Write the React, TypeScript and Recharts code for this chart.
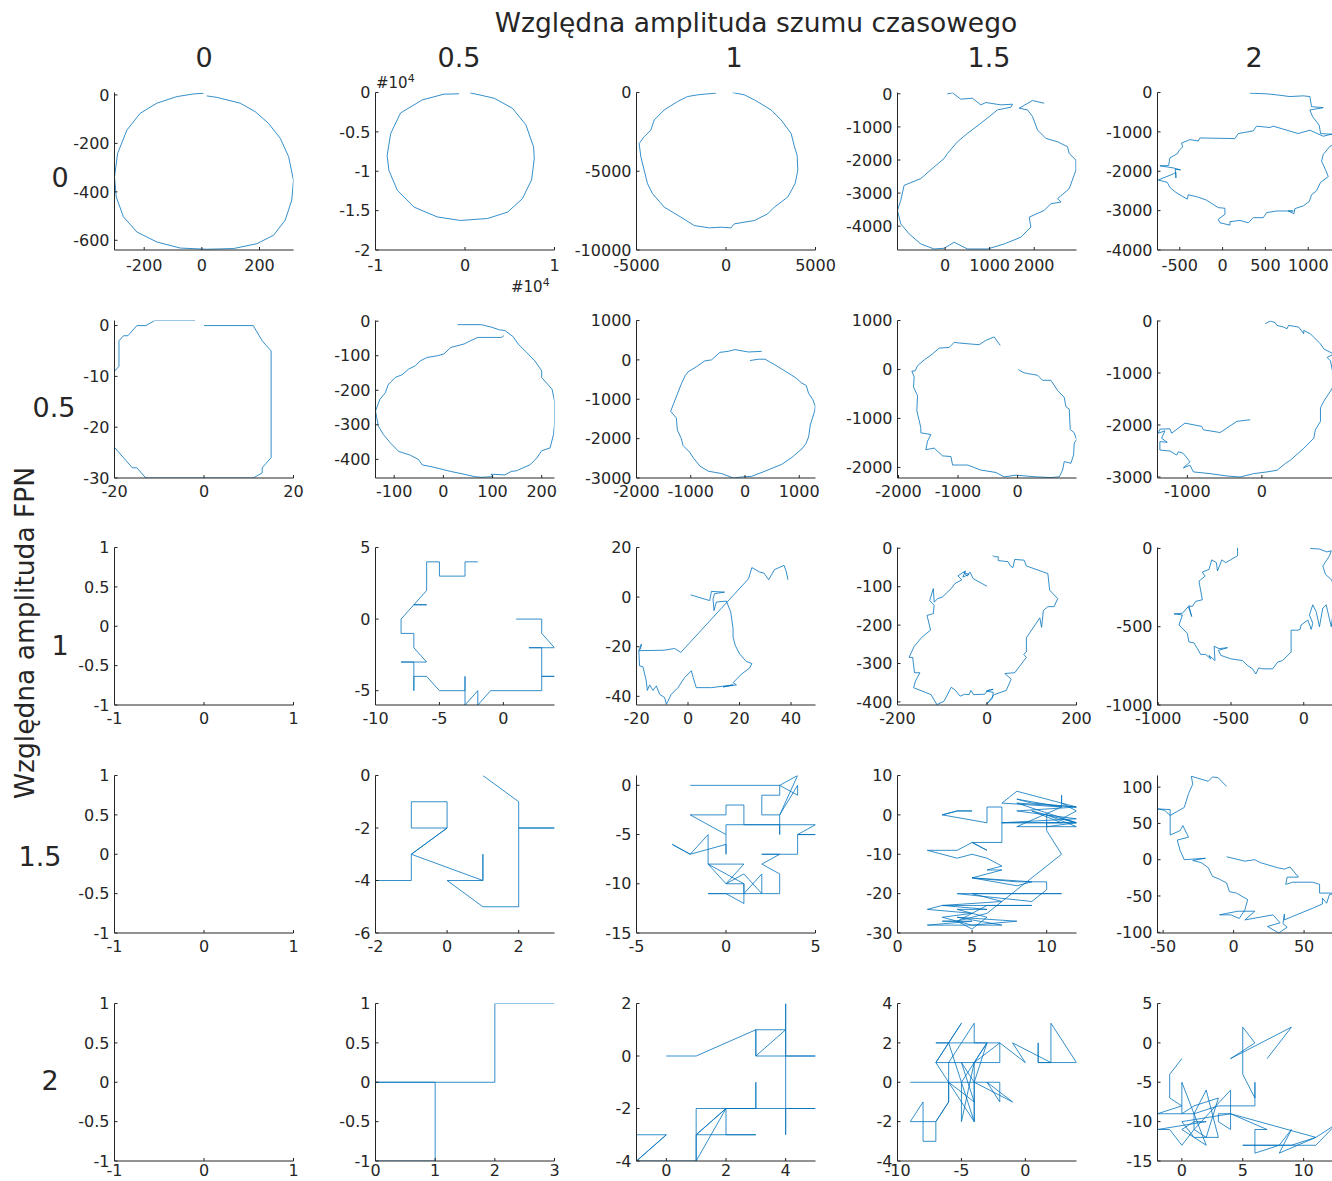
import { LineChart, Line, XAxis, YAxis } from 'recharts'

type Pt = [number, number]

const AXIS = '#262626'
const BLUE = '#0072BD'
const FONT = '"DejaVu Sans", sans-serif'

const TITLE = 'Względna amplituda szumu czasowego'
const Y_TITLE = 'Względna amplituda FPN'
const COL_LABELS = ['0', '0.5', '1', '1.5', '2']
const ROW_LABELS = ['0', '0.5', '1', '1.5', '2']

// row 0 (FPN 0)
const r0c0: Pt[] = [[17,-4],[52,-10],[133,-34],[185,-69],[231,-117],[272,-179],[301,-255],[318,-352],[312,-434],[289,-517],[249,-579],[191,-614],[110,-634],[17,-637],[-75,-632],[-156,-607],[-225,-566],[-272,-503],[-297,-421],[-303,-338],[-292,-241],[-260,-145],[-214,-76],[-156,-34],[-87,-7],[-29,4],[6,7]]
const r0c1: Pt[] = [[560,-40],[3250,-720],[5300,-2000],[6800,-4100],[7660,-6900],[7740,-8400],[7440,-11100],[6400,-13500],[4750,-15200],[2500,-16000],[-500,-16250],[-3100,-15800],[-5700,-14550],[-7570,-12400],[-8500,-9900],[-8700,-8000],[-8300,-5200],[-7200,-2600],[-4770,-940],[-2350,-210],[-670,-170]]
const r0c2: Pt[] = [[373,0],[1026,-149],[1586,-468],[2519,-1106],[3078,-1745],[3638,-2596],[3825,-3447],[3974,-3979],[4011,-4936],[3862,-5787],[3451,-6638],[2705,-7277],[2332,-7702],[1586,-8128],[466,-8340],[280,-8596],[-280,-8553],[-933,-8596],[-1772,-8447],[-2519,-7915],[-3451,-7277],[-4104,-6426],[-4384,-5787],[-4571,-4936],[-4757,-4085],[-4851,-3234],[-4571,-2809],[-4198,-2383],[-4011,-1745],[-3451,-1106],[-2705,-574],[-2146,-255],[-1586,-149],[-1026,-85],[-560,-43]]
const r0c3: Pt[] = [[52,0],[165,30],[352,-162],[614,-132],[801,-334],[914,-263],[1251,-334],[1513,-314],[1476,-405],[1176,-486],[801,-891],[502,-1195],[277,-1448],[52,-1803],[-22,-1954],[-247,-2208],[-547,-2562],[-921,-2765],[-996,-3220],[-1071,-3524],[-996,-3929],[-809,-4233],[-547,-4537],[-247,-4689],[-22,-4668],[202,-4486],[502,-4689],[951,-4689],[1326,-4537],[1700,-4334],[1925,-4030],[1888,-3727],[2225,-3524],[2375,-3322],[2599,-3271],[2524,-3170],[2787,-2866],[2936,-2309],[2936,-2005],[2787,-1803],[2749,-1600],[2524,-1448],[2262,-1347],[2075,-1094],[1963,-689],[1850,-486],[1663,-435],[1963,-203],[2225,-284]]
const r0c4: Pt[] = [[319,-17],[514,-34],[630,-60],[786,-103],[942,-85],[1019,-103],[1039,-359],[1175,-385],[1019,-444],[1051,-615],[1128,-829],[1144,-1043],[1276,-1060],[1331,-1299],[1253,-1368],[1175,-1573],[1156,-1744],[1206,-1983],[1234,-2137],[1144,-2282],[1097,-2496],[1039,-2598],[1012,-2769],[942,-2880],[844,-2949],[833,-3077],[767,-3009],[825,-3009],[630,-3009],[514,-3051],[475,-3179],[358,-3179],[300,-3308],[202,-3248],[86,-3282],[86,-3368],[-31,-3308],[-51,-3222],[27,-3094],[27,-2940],[-51,-2923],[-187,-2735],[-296,-2650],[-401,-2598],[-412,-2709],[-545,-2538],[-615,-2410],[-646,-2282],[-751,-2222],[-576,-2068],[-545,-2026],[-545,-2171],[-553,-1949],[-490,-1966],[-576,-1915],[-732,-1863],[-630,-1855],[-615,-1658],[-529,-1556],[-506,-1470],[-467,-1385],[-479,-1282],[-381,-1197],[-284,-1231],[-265,-1154],[144,-1171],[183,-1043],[358,-974],[397,-855],[553,-889],[591,-855],[883,-1043],[1019,-957],[1175,-1111],[1331,-1026]]

// row 1 (FPN 0.5)
const r1c0: Pt[] = [[0,0],[11,0],[13,-3],[14,-4],[15,-5],[15,-26],[13,-28],[13,-29],[11,-30],[-13,-30],[-15,-28],[-16,-28],[-20,-24],[-20,-9],[-19,-8],[-19,-3],[-18,-2],[-17,-2],[-15,0],[-13,0],[-11,1],[-2,1]]
const r1c1: Pt[] = [[29,-10],[77,-10],[97,-17],[114,-25],[125,-27],[142,-45],[152,-66],[169,-90],[186,-115],[200,-144],[200,-163],[221,-197],[226,-231],[226,-260],[226,-299],[224,-328],[217,-367],[200,-375],[190,-396],[176,-416],[166,-422],[149,-433],[138,-435],[125,-445],[97,-443],[101,-450],[77,-452],[63,-450],[42,-443],[15,-435],[-19,-423],[-43,-416],[-50,-401],[-67,-388],[-91,-377],[-108,-352],[-122,-328],[-132,-304],[-136,-275],[-138,-260],[-129,-226],[-118,-207],[-112,-183],[-108,-178],[-98,-163],[-84,-155],[-71,-139],[-57,-129],[-47,-115],[-33,-105],[-12,-100],[1,-95],[15,-76],[42,-66],[56,-56],[70,-47],[87,-47],[118,-47],[123,-42]]
const r1c2: Pt[] = [[309,217],[62,200],[-185,261],[-309,217],[-463,191],[-617,0],[-741,-26],[-895,-174],[-1049,-304],[-1099,-391],[-1173,-609],[-1235,-826],[-1296,-1043],[-1370,-1304],[-1265,-1478],[-1247,-1783],[-1173,-2000],[-1142,-2174],[-1019,-2348],[-957,-2478],[-833,-2696],[-679,-2826],[-432,-2887],[-216,-3000],[-62,-2974],[123,-2957],[370,-2826],[679,-2652],[864,-2478],[1049,-2261],[1123,-2130],[1173,-1957],[1204,-1652],[1284,-1304],[1296,-1174],[1247,-1000],[1173,-852],[1130,-652],[1049,-591],[957,-478],[864,-391],[710,-261],[556,-130],[370,17],[247,17],[93,-17]]
const r1c3: Pt[] = [[-291,491],[-392,664],[-532,595],[-647,505],[-980,540],[-1064,554],[-1148,450],[-1317,436],[-1429,318],[-1569,194],[-1681,76],[-1720,-28],[-1776,-35],[-1737,-152],[-1748,-360],[-1681,-533],[-1692,-844],[-1625,-1190],[-1625,-1294],[-1457,-1329],[-1513,-1467],[-1541,-1640],[-1401,-1606],[-1261,-1765],[-1120,-1779],[-1092,-1952],[-840,-1952],[-616,-2055],[-364,-2104],[-224,-2194],[-28,-2159],[112,-2173],[308,-2194],[560,-2208],[700,-2194],[756,-2055],[784,-1882],[896,-1917],[941,-1744],[952,-1502],[992,-1433],[952,-1294],[885,-1225],[868,-810],[812,-761],[784,-568],[672,-429],[560,-221],[420,-221],[336,-118],[168,-83],[112,-69],[56,-35],[11,0]]
const r1c4: Pt[] = [[-157,-1899],[-336,-1931],[-561,-2145],[-785,-2093],[-807,-2028],[-1031,-1964],[-1211,-2158],[-1233,-2074],[-1368,-2080],[-1390,-2158],[-1300,-2113],[-1345,-2255],[-1269,-2333],[-1368,-2320],[-1368,-2482],[-1233,-2502],[-1143,-2579],[-1121,-2515],[-1054,-2547],[-964,-2709],[-1054,-2826],[-964,-2774],[-919,-2903],[-695,-2936],[-471,-2981],[-291,-3001],[-112,-2936],[67,-2903],[202,-2871],[314,-2741],[381,-2677],[561,-2450],[695,-2255],[717,-2093],[785,-1931],[785,-1672],[830,-1542],[919,-1348],[946,-1283],[1009,-1218],[946,-959],[919,-765],[874,-700],[964,-635],[830,-538],[785,-441],[695,-311],[650,-246],[561,-181],[561,-246],[493,-117],[359,-84],[336,-149],[291,-117],[202,-84],[179,-32],[112,0],[45,-52]]

// row 2 (FPN 1)
const r2c1: Pt[] = [[1,0],[2,0],[3,0],[3,-1],[4,-2],[2,-2],[3,-2],[3,-4],[4,-4],[3,-4],[3,-5],[-1,-5],[-2,-6],[-2,-5],[-3,-6],[-3,-4],[-3,-5],[-5,-5],[-6,-4],[-7,-4],[-7,-5],[-7,-3],[-8,-3],[-6,-3],[-7,-2],[-7,-1],[-8,-1],[-8,0],[-7,1],[-6,1],[-7,1],[-6,2],[-6,4],[-5,4],[-5,3],[-3,3],[-3,4],[-2,4]]
const r2c2: Pt[] = [[1,0.9],[8.4,-1.4],[9.1,2.3],[14.2,2],[10.3,1.4],[9.7,-0.7],[10.1,-5.4],[11,-2],[14.9,-1.6],[16.6,-6.1],[17.5,-12.8],[17.5,-16.2],[18.4,-19.6],[20.1,-23],[22.6,-25.9],[24.8,-26.8],[23.9,-28.6],[20.7,-31.1],[17.5,-34.5],[18.8,-35.4],[13.6,-36.2],[17.5,-35.4],[9.1,-36.5],[3.2,-36.5],[2,-32.4],[1.3,-29.7],[-1.3,-32.4],[-3.9,-36.5],[-6.5,-39.2],[-8.4,-43.2],[-9.1,-40.5],[-11,-39.2],[-12.3,-35.8],[-13.6,-37.6],[-14.9,-35.4],[-15.8,-37.6],[-16.2,-33.8],[-17.5,-28.1],[-18.8,-27.7],[-19.1,-21.6],[-18.1,-18.9],[-18.4,-20.9],[-19.1,-21.6],[-9.1,-21.4],[-5.2,-20.7],[-2.8,-22.3],[23.5,7.4],[24.8,11.9],[27.8,10.1],[29.5,9.7],[31.3,7],[33.6,11.1],[37.3,12.8],[38.2,10.1],[38.8,7]]
const r2c3: Pt[] = [[0,-99],[-31,-79],[-38,-62],[-44,-72],[-52,-63],[-40,-68],[-54,-75],[-48,-59],[-60,-68],[-65,-72],[-56,-82],[-72,-92],[-80,-105],[-100,-127],[-110,-131],[-118,-140],[-120,-105],[-128,-136],[-118,-148],[-120,-170],[-134,-175],[-126,-213],[-146,-232],[-163,-256],[-174,-284],[-166,-284],[-162,-324],[-150,-324],[-160,-346],[-164,-363],[-125,-381],[-112,-407],[-96,-398],[-80,-362],[-72,-368],[-60,-385],[-50,-380],[-40,-381],[-36,-370],[-30,-381],[-5,-380],[2,-370],[14,-367],[-2,-372],[14,-375],[12,-390],[0,-405],[16,-381],[43,-370],[54,-341],[40,-326],[62,-324],[88,-284],[82,-276],[88,-270],[88,-233],[118,-181],[122,-206],[126,-162],[136,-152],[150,-152],[158,-131],[140,-109],[136,-66],[88,-46],[83,-31],[62,-29],[58,-50],[53,-47],[47,-35],[25,-32],[25,-22],[16,-22],[13,-18]]
const r2c4: Pt[] = [[-455,6],[-455,-47],[-536,-91],[-563,-73],[-593,-144],[-600,-91],[-632,-73],[-651,-134],[-697,-151],[-678,-177],[-720,-209],[-697,-328],[-743,-338],[-766,-371],[-789,-366],[-770,-435],[-793,-371],[-834,-414],[-892,-418],[-834,-425],[-857,-489],[-800,-543],[-789,-597],[-755,-603],[-731,-640],[-708,-677],[-674,-677],[-640,-705],[-651,-683],[-610,-716],[-616,-625],[-582,-640],[-524,-634],[-586,-651],[-570,-683],[-501,-705],[-421,-716],[-386,-748],[-352,-769],[-329,-802],[-310,-763],[-283,-769],[-214,-769],[-179,-726],[-145,-716],[-87,-662],[-87,-522],[-41,-522],[-25,-517],[-18,-489],[28,-457],[51,-517],[62,-478],[39,-425],[62,-360],[85,-403],[108,-500],[131,-381],[154,-360],[189,-500],[223,-263],[189,-198],[149,-166],[131,-112],[154,-80],[177,-47],[189,-15],[159,-22],[108,-4],[44,0]]

// row 3 (FPN 1.5)
const r3c1: Pt[] = [[1,0],[2,-1],[2,-2],[3,-2],[2,-2],[2,-5],[1,-5],[0,-4],[1,-4],[1,-3],[1,-4],[-1,-3],[0,-2],[0,-1],[-1,-1],[-1,-2],[0,-2],[-1,-3],[-1,-4],[-2,-4],[-2,-6]]
const r3c2: Pt[] = [[-2,0],[3,0],[4,1],[3,-3],[4,0],[4,-1],[3,0],[3,-1],[2,-1],[2,-3],[3,-3],[3,-5],[3,-4],[5,-4],[4,-5],[5,-5],[4,-5],[4,-7],[2,-7],[3,-7],[2,-8],[3,-9],[3,-11],[-1,-11],[0,-11],[1,-12],[1,-10],[0,-10],[-1,-8],[1,-8],[0,-10],[1,-9],[2,-11],[2,-9],[1,-11],[1,-10],[-1,-8],[-1,-5],[-2,-7],[-3,-6],[-2,-7],[0,-6],[0,-7],[0,-4],[3,-4],[1,-4],[1,-2],[0,-2],[0,-3],[-2,-3],[0,-5]]
const r3c3: Pt[] = [[3,0],[4,1],[5,1],[4,1],[3,0],[6,-2],[6,2],[7,2],[7,-7],[5,-7],[6,-9],[5,-7],[4,-9],[2,-9],[4,-11],[5,-10],[6,-11],[7,-13],[6,-14],[7,-14],[5,-16],[8,-18],[9,-17],[5,-16],[8,-17],[10,-17],[10,-19],[9,-22],[4,-20],[11,-20],[5,-20],[7,-22],[3,-23],[9,-23],[6,-23],[4,-27],[3,-27],[5,-27],[2,-28],[7,-28],[4,-26],[8,-27],[5,-28],[3,-26],[5,-25],[2,-24],[3,-23],[6,-24],[4,-24],[6,-26],[5,-29],[4,-27],[6,-25],[8,-19],[11,-10],[10,-4],[10,-2],[12,-2],[11,-1],[12,1],[11,3],[11,5],[11,2],[8,4],[9,3],[12,2],[8,1],[10,0],[12,-1],[7,-2],[12,-2],[10,-3],[10,0],[12,-3],[8,-3],[11,2],[7,3],[8,6],[10,4],[12,2],[8,3],[12,-2],[9,1],[11,-2],[7,-2]]
const r3c4: Pt[] = [[-5,4],[8,-2],[15,0],[19,-4],[31,-11],[36,-13],[40,-10],[46,-24],[38,-24],[37,-34],[42,-31],[56,-31],[61,-34],[61,-46],[73,-46],[68,-48],[66,-60],[63,-53],[63,-61],[56,-67],[42,-78],[36,-83],[36,-75],[35,-88],[38,-93],[32,-101],[24,-92],[33,-87],[28,-76],[8,-83],[15,-71],[3,-71],[-5,-74],[-10,-76],[-2,-76],[4,-81],[8,-69],[10,-55],[2,-46],[-3,-44],[-5,-32],[-10,-27],[-15,-23],[-18,-11],[-23,-4],[-29,-1],[-20,2],[-35,0],[-38,13],[-40,27],[-32,31],[-36,47],[-38,40],[-45,34],[-45,69],[-54,70],[-49,68],[-45,61],[-35,72],[-32,91],[-29,104],[-30,115],[-18,108],[-15,114],[-11,113],[-5,101]]

// row 4 (FPN 2)
const r4c1: Pt[] = [[0,0],[1,0],[0,0],[0,-1],[1,-1],[1,0],[2,0],[2,1],[3,1]]
const r4c2: Pt[] = [[0,0],[1,0],[3,1],[4,1],[3,0],[3,1],[3,0],[4,0],[5,0],[4,0],[4,2],[4,-3],[4,-2],[5,-2],[2,-2],[3,-2],[3,-1],[3,-2],[2,-2],[1,-4],[1,-2],[2,-2],[2,-3],[3,-3],[1,-3],[2,-2],[1,-3],[1,-4],[-1,-4],[0,-3],[-1,-3],[-1,-4],[0,-3]]
const r4c3: Pt[] = [[-9,0],[-2,0],[-2,-1],[-3,0],[-1,-1],[-4,0],[-3,2],[-5,0],[-4,-2],[-6,0],[-6,-1],[-7,-2],[-9,-2],[-8,-1],[-8,-3],[-7,-3],[-7,-2],[-6,-1],[-6,0],[-7,1],[-6,2],[-7,2],[-2,2],[-2,1],[-7,1],[-5,3],[-6,2],[-5,0],[-5,-2],[-4,1],[-3,2],[-4,2],[-4,3],[-6,1],[-6,0],[-4,-1],[-5,1],[-4,0],[-4,-2],[-4,1],[-2,2],[0,1],[-1,2],[2,1],[1,1],[1,2],[1,1],[2,1],[2,3],[4,1],[2,1]]
const r4c4: Pt[] = [[0,-2],[-1,-4],[-1,-7],[0,-8],[-2,-9],[1,-9],[1,-11],[0,-13],[-1,-11],[-2,-11],[2,-10],[1,-10],[0,-11],[2,-13],[0,-5],[0,-9],[1,-8],[3,-7],[2,-12],[1,-11],[4,-6],[4,-11],[3,-10],[3,-9],[4,-9],[7,-11],[6,-11],[6,-14],[8,-13],[9,-11],[8,-14],[11,-12],[9,-13],[5,-13],[11,-13],[12.7,-10.3],[11,-12],[4,-9],[0,-10],[1,-12],[3,-12],[2,-6],[1,-9],[3,-8],[6,-8],[6,-5],[6,-7],[5,-4],[5,2],[6,0],[4,-2],[9,2],[7,-2]]

const EMPTY: Pt[] = []
const UNIT_X = [-1, 0, 1]
const UNIT_Y = [-1, -0.5, 0, 0.5, 1]

const COL_LEFT = [114, 375, 636, 897, 1157]
const ROW_TOP = [92, 320, 547, 775, 1003]
const ROW_XMARGIN = [13, 11, 11, 11, 7]
const PW = 179
const PH = 157
const YW = 70
const XH = 30
const TOP_PAD = 12

interface Panel {
  row: number
  col: number
  data: Pt[]
  xd: [number, number]
  yd: [number, number]
  xt: number[]
  yt: number[]
  fmt?: (v: number) => string
}

const e4 = (v: number) => String(v / 10000)

const PANELS: Panel[] = [
  { row: 0, col: 0, data: r0c0, xd: [-303, 318], yd: [-640, 10], xt: [-200, 0, 200], yt: [-600, -400, -200, 0] },
  { row: 0, col: 1, data: r0c1, xd: [-10000, 10000], yd: [-20000, 0], xt: [-10000, 0, 10000], yt: [-20000, -15000, -10000, -5000, 0], fmt: e4 },
  { row: 0, col: 2, data: r0c2, xd: [-5000, 5000], yd: [-10000, 0], xt: [-5000, 0, 5000], yt: [-10000, -5000, 0] },
  { row: 0, col: 3, data: r0c3, xd: [-1070, 2950], yd: [-4720, 40], xt: [0, 1000, 2000], yt: [-4000, -3000, -2000, -1000, 0] },
  { row: 0, col: 4, data: r0c4, xd: [-760, 1330], yd: [-4000, 0], xt: [-500, 0, 500, 1000], yt: [-4000, -3000, -2000, -1000, 0] },
  { row: 1, col: 0, data: r1c0, xd: [-20, 20], yd: [-30, 1], xt: [-20, 0, 20], yt: [-30, -20, -10, 0] },
  { row: 1, col: 1, data: r1c1, xd: [-138, 226], yd: [-454, 2], xt: [-100, 0, 100, 200], yt: [-400, -300, -200, -100, 0] },
  { row: 1, col: 2, data: r1c2, xd: [-2000, 1300], yd: [-3000, 1000], xt: [-2000, -1000, 0, 1000], yt: [-3000, -2000, -1000, 0, 1000] },
  { row: 1, col: 3, data: r1c3, xd: [-2017, 990], yd: [-2217, 1000], xt: [-2000, -1000, 0], yt: [-2000, -1000, 0, 1000] },
  { row: 1, col: 4, data: r1c4, xd: [-1400, 1000], yd: [-3020, 10], xt: [-1000, 0], yt: [-3000, -2000, -1000, 0] },
  { row: 2, col: 0, data: EMPTY, xd: [-1, 1], yd: [-1, 1], xt: UNIT_X, yt: UNIT_Y },
  { row: 2, col: 1, data: r2c1, xd: [-10, 4], yd: [-6, 5], xt: [-10, -5, 0], yt: [-5, 0, 5] },
  { row: 2, col: 2, data: r2c2, xd: [-20, 49.5], yd: [-43.5, 20], xt: [-20, 0, 20, 40], yt: [-40, -20, 0, 20] },
  { row: 2, col: 3, data: r2c3, xd: [-200, 200], yd: [-408, 2], xt: [-200, 0, 200], yt: [-400, -300, -200, -100, 0] },
  { row: 2, col: 4, data: r2c4, xd: [-1005, 225], yd: [-1000, 6], xt: [-1000, -500, 0], yt: [-1000, -500, 0] },
  { row: 3, col: 0, data: EMPTY, xd: [-1, 1], yd: [-1, 1], xt: UNIT_X, yt: UNIT_Y },
  { row: 3, col: 1, data: r3c1, xd: [-2, 3], yd: [-6, 0], xt: [-2, 0, 2], yt: [-6, -4, -2, 0] },
  { row: 3, col: 2, data: r3c2, xd: [-5, 5], yd: [-15, 1], xt: [-5, 0, 5], yt: [-15, -10, -5, 0] },
  { row: 3, col: 3, data: r3c3, xd: [0, 12], yd: [-30, 10], xt: [0, 5, 10], yt: [-30, -20, -10, 0, 10] },
  { row: 3, col: 4, data: r3c4, xd: [-54, 73], yd: [-101, 116], xt: [-50, 0, 50], yt: [-100, -50, 0, 50, 100] },
  { row: 4, col: 0, data: EMPTY, xd: [-1, 1], yd: [-1, 1], xt: UNIT_X, yt: UNIT_Y },
  { row: 4, col: 1, data: r4c1, xd: [0, 3], yd: [-1, 1], xt: [0, 1, 2, 3], yt: UNIT_Y },
  { row: 4, col: 2, data: r4c2, xd: [-1, 5], yd: [-4, 2], xt: [0, 2, 4], yt: [-4, -2, 0, 2] },
  { row: 4, col: 3, data: r4c3, xd: [-10, 4], yd: [-4, 4], xt: [-10, -5, 0], yt: [-4, -2, 0, 2, 4] },
  { row: 4, col: 4, data: r4c4, xd: [-2, 12.7], yd: [-15, 5], xt: [0, 5, 10], yt: [-15, -10, -5, 0, 5] },
]

const tickStyle = { fill: AXIS, fontSize: 16, fontFamily: FONT }
const blank = () => ''

function SubPlot({ p }: { p: Panel }) {
  const rows = p.data.map(([x, y]) => ({ x, y }))
  return (
    <div style={{ position: 'absolute', left: COL_LEFT[p.col] - YW, top: ROW_TOP[p.row] - TOP_PAD }}>
      <LineChart
        width={YW + PW + 40}
        height={TOP_PAD + PH + XH + 1}
        data={rows}
        margin={{ top: TOP_PAD + 0.5, right: 39.5, left: 0.5, bottom: 0 }}
      >
        <XAxis
          xAxisId="b"
          type="number"
          dataKey="x"
          domain={p.xd}
          ticks={p.xt}
          interval={0}
          allowDataOverflow
          height={XH}
          stroke={AXIS}
          tickSize={-3}
          tickMargin={ROW_XMARGIN[p.row]}
          tick={tickStyle}
          tickFormatter={p.fmt}
        />
        <XAxis
          xAxisId="t"
          orientation="top"
          type="number"
          dataKey="x"
          domain={p.xd}
          ticks={p.xt}
          interval={0}
          allowDataOverflow
          height={0}
          stroke={AXIS}
          tickSize={-3}
          tickFormatter={blank}
        />
        <YAxis
          yAxisId="l"
          type="number"
          dataKey="y"
          domain={p.yd}
          ticks={p.yt}
          interval={0}
          allowDataOverflow
          width={YW}
          stroke={AXIS}
          tickSize={-3}
          tickMargin={8}
          tick={tickStyle}
          tickFormatter={p.fmt}
        />
        <YAxis
          yAxisId="r"
          orientation="right"
          type="number"
          dataKey="y"
          domain={p.yd}
          ticks={p.yt}
          interval={0}
          allowDataOverflow
          width={0}
          stroke={AXIS}
          tickSize={-3}
          tickFormatter={blank}
        />
        <Line
          xAxisId="t"
          yAxisId="r"
          dataKey="y"
          stroke="none"
          dot={false}
          activeDot={false}
          isAnimationActive={false}
        />
        <Line
          xAxisId="b"
          yAxisId="l"
          dataKey="y"
          type="linear"
          stroke={BLUE}
          strokeWidth={0.8}
          dot={false}
          activeDot={false}
          isAnimationActive={false}
        />
      </LineChart>
    </div>
  )
}

const COL_X = [204, 459, 734, 989, 1254]
const ROW_X = [60, 54, 60, 40, 50]
const ROW_Y = [177, 407, 645, 856, 1080]

export default function App() {
  return (
    <div
      style={{
        position: 'absolute',
        left: 0,
        top: 0,
        width: 1332,
        height: 1181,
        overflow: 'hidden',
        background: '#fff',
        fontFamily: FONT,
      }}
    >
      {PANELS.map((p) => (
        <SubPlot key={`${p.row}-${p.col}`} p={p} />
      ))}
      <svg
        width={1332}
        height={1181}
        style={{ position: 'absolute', left: 0, top: 0, pointerEvents: 'none' }}
        fontFamily={FONT}
        fill={AXIS}
      >
        <text x={756} y={32} textAnchor="middle" fontSize={26.5}>
          {TITLE}
        </text>
        {COL_LABELS.map((t, i) => (
          <text key={t} x={COL_X[i]} y={67} textAnchor="middle" fontSize={27}>
            {t}
          </text>
        ))}
        {ROW_LABELS.map((t, i) => (
          <text key={t} x={ROW_X[i]} y={ROW_Y[i] + 9.5} textAnchor="middle" fontSize={27}>
            {t}
          </text>
        ))}
        <text x={34} y={633} textAnchor="middle" fontSize={26.5} transform="rotate(-90 34 633)">
          {Y_TITLE}
        </text>
        <text x={376} y={88} fontSize={15}>
          #10<tspan dy={-6} fontSize={11}>4</tspan>
        </text>
        <text x={511} y={292} fontSize={15}>
          #10<tspan dy={-6} fontSize={11}>4</tspan>
        </text>
      </svg>
    </div>
  )
}
